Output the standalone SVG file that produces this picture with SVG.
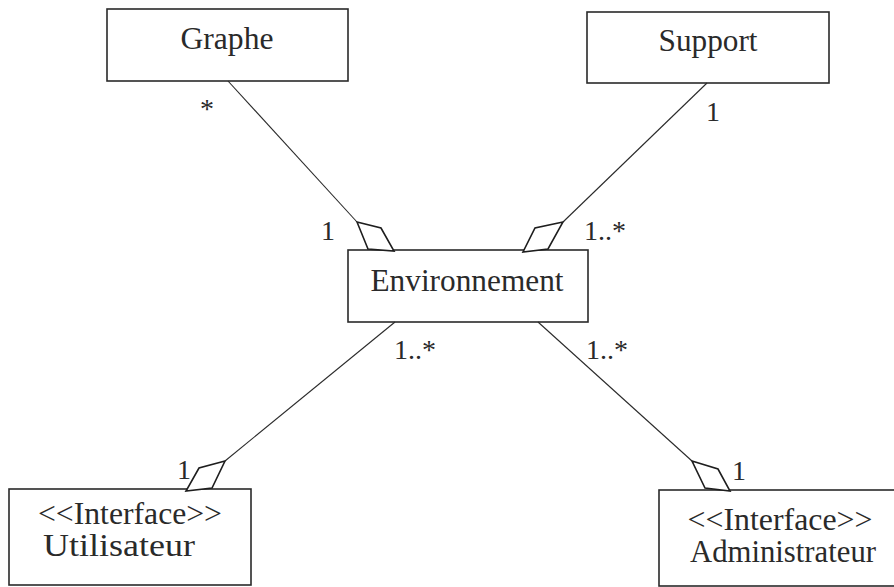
<svg xmlns="http://www.w3.org/2000/svg" width="894" height="587" viewBox="0 0 894 587">
<style>
.box{fill:#fff;stroke:#2a2a2a;stroke-width:1.6}
.name{font-family:"Liberation Serif","Times New Roman",serif;font-size:31px;fill:#2a2a2a;text-anchor:middle}
.lbl{font-family:"Liberation Serif","Times New Roman",serif;font-size:28px;fill:#2a2a2a}
.ln{stroke:#2a2a2a;stroke-width:1.1;fill:none}
.dia{fill:#fff;stroke:#1e1e1e;stroke-width:1.6;stroke-linejoin:miter}
</style>
<rect width="894" height="587" fill="#fff"/>
<g id="graphe">
<rect class="box" x="107" y="9" width="241" height="72"/>
<text class="name" x="227" y="49" textLength="93" lengthAdjust="spacingAndGlyphs">Graphe</text>
</g>
<g id="support">
<rect class="box" x="587" y="12" width="242" height="71"/>
<text class="name" x="708" y="51" textLength="99" lengthAdjust="spacingAndGlyphs">Support</text>
</g>
<g id="environnement">
<rect class="box" x="348" y="250" width="240" height="72"/>
<text class="name" x="467" y="291" textLength="193" lengthAdjust="spacingAndGlyphs">Environnement</text>
</g>
<g id="utilisateur">
<rect class="box" x="9" y="489" width="242" height="96"/>
<text class="name" x="130" y="524" textLength="184" lengthAdjust="spacingAndGlyphs">&lt;&lt;Interface&gt;&gt;</text>
<text class="name" x="119" y="556" textLength="152" lengthAdjust="spacingAndGlyphs">Utilisateur</text>
</g>
<g id="administrateur">
<rect class="box" x="659" y="490" width="245" height="96"/>
<text class="name" x="780" y="530" textLength="185" lengthAdjust="spacingAndGlyphs">&lt;&lt;Interface&gt;&gt;</text>
<text class="name" x="783" y="562" textLength="186" lengthAdjust="spacingAndGlyphs">Administrateur</text>
</g>
<g id="connectors">
<line class="ln" x1="228" y1="81" x2="357" y2="222"/>
<polygon class="dia" points="357,222 381,228 394,251 368,249"/>
<line class="ln" x1="707" y1="83" x2="563" y2="222"/>
<polygon class="dia" points="563,222 535,228 523,252 548,249"/>
<line class="ln" x1="395" y1="322" x2="225" y2="461"/>
<polygon class="dia" points="225,461 199,468 186,491 212,488"/>
<line class="ln" x1="538" y1="322" x2="692" y2="461"/>
<polygon class="dia" points="692,461 718,469 730,491 705,488"/>
<text class="lbl" x="200" y="118">*</text>
<text class="lbl" x="706" y="121">1</text>
<text class="lbl" x="321" y="240">1</text>
<text class="lbl" x="584" y="240">1..*</text>
<text class="lbl" x="394" y="359">1..*</text>
<text class="lbl" x="586" y="359">1..*</text>
<text class="lbl" x="177" y="479">1</text>
<text class="lbl" x="732" y="480">1</text>
</g>
</svg>
